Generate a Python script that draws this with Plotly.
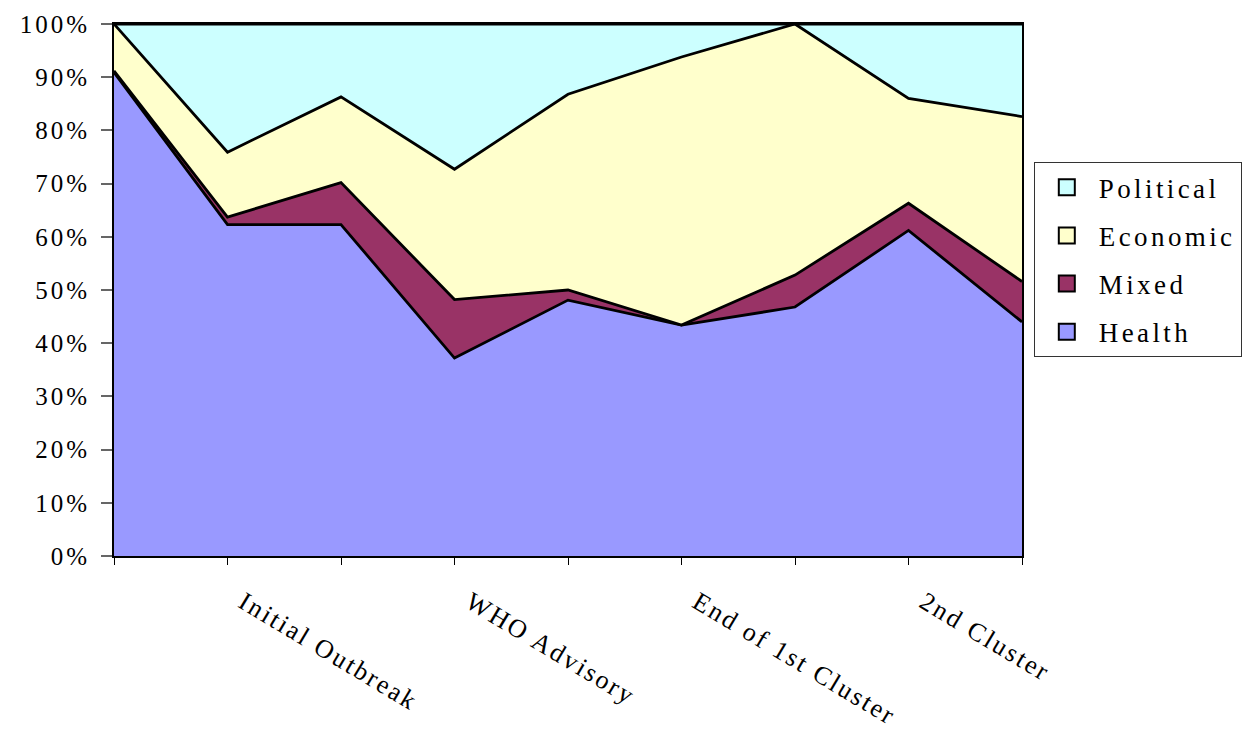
import plotly.graph_objects as go

# Share of coverage by theme (percent of items in each period)
periods = ["", "Initial Outbreak", "", "WHO Advisory", "", "End of 1st Cluster", "", "2nd Cluster", ""]
health = [90.9, 62.3, 62.3, 37.2, 48.1, 43.4, 46.8, 61.2, 44.0]
mixed = [0.3, 1.4, 7.9, 11.0, 1.9, 0.0, 6.0, 5.1, 7.6]
economic = [8.8, 12.2, 16.1, 24.5, 36.8, 50.4, 47.2, 19.7, 31.0]
political = [0.0, 24.1, 13.7, 27.3, 13.2, 6.2, 0.0, 14.0, 17.4]
y_ticks = [0, 10, 20, 30, 40, 50, 60, 70, 80, 90, 100]

series = [
    ("Health", health, "#9999FF"),
    ("Mixed", mixed, "#993366"),
    ("Economic", economic, "#FFFFCC"),
    ("Political", political, "#CCFFFF"),
]

FONT = "Liberation Serif, Times New Roman, serif"


def spaced(text, px):
    return f"<span style='letter-spacing:{px}px'>{text}</span>"


x = list(range(len(periods)))
fig = go.Figure()

# stacked areas
for name, vals, color in series:
    fig.add_trace(go.Scatter(
        x=x, y=vals, name=name, mode="lines",
        stackgroup="one", groupnorm="percent",
        line=dict(color="black", width=2.8),
        fillcolor=color, showlegend=False,
    ))

# legend entries drawn as outlined square swatches, top layer listed first
for i, (name, vals, color) in enumerate(reversed(series)):
    fig.add_trace(go.Scatter(
        x=[None], y=[None], name=spaced(name, 3.4), mode="markers",
        marker=dict(symbol="square", size=21, color=color,
                    line=dict(color="black", width=2)),
        legendgroup=f"g{i}", showlegend=True,
    ))

fig.update_layout(
    width=1255, height=732,
    margin=dict(l=114, r=233, t=24, b=176),
    plot_bgcolor="white", paper_bgcolor="white",
    font=dict(family=FONT, size=24, color="black"),
    showlegend=True,
    legend=dict(
        traceorder="grouped",
        x=1.013, xanchor="left", y=0.74, yanchor="top",
        bordercolor="#333333", borderwidth=1,
        font=dict(family=FONT, size=27),
        tracegroupgap=10,
        itemwidth=54,
    ),
    xaxis=dict(
        range=[0, len(periods) - 1],
        tickmode="array", tickvals=x, ticktext=[spaced(p, 2.4) for p in periods],
        tickangle=31,
        ticks="outside", ticklen=7, tickcolor="black", tickwidth=1,
        showline=True, linecolor="black", linewidth=2, mirror=True,
        showgrid=False, zeroline=False, automargin=False,
        tickfont=dict(family=FONT, size=26),
        ticklabelshift=16, ticklabelstandoff=12,
    ),
    yaxis=dict(
        range=[0, 100],
        tickmode="array", tickvals=y_ticks,
        ticktext=[spaced(f"{v}%", 3) for v in y_ticks],
        ticks="outside", ticklen=11, tickcolor="#666666", tickwidth=2,
        showline=True, linecolor="black", linewidth=2, mirror=True,
        showgrid=False, zeroline=False, automargin=False,
        tickfont=dict(family=FONT, size=25),
        ticklabelstandoff=6,
    ),
)

fig.write_html("out.html")
